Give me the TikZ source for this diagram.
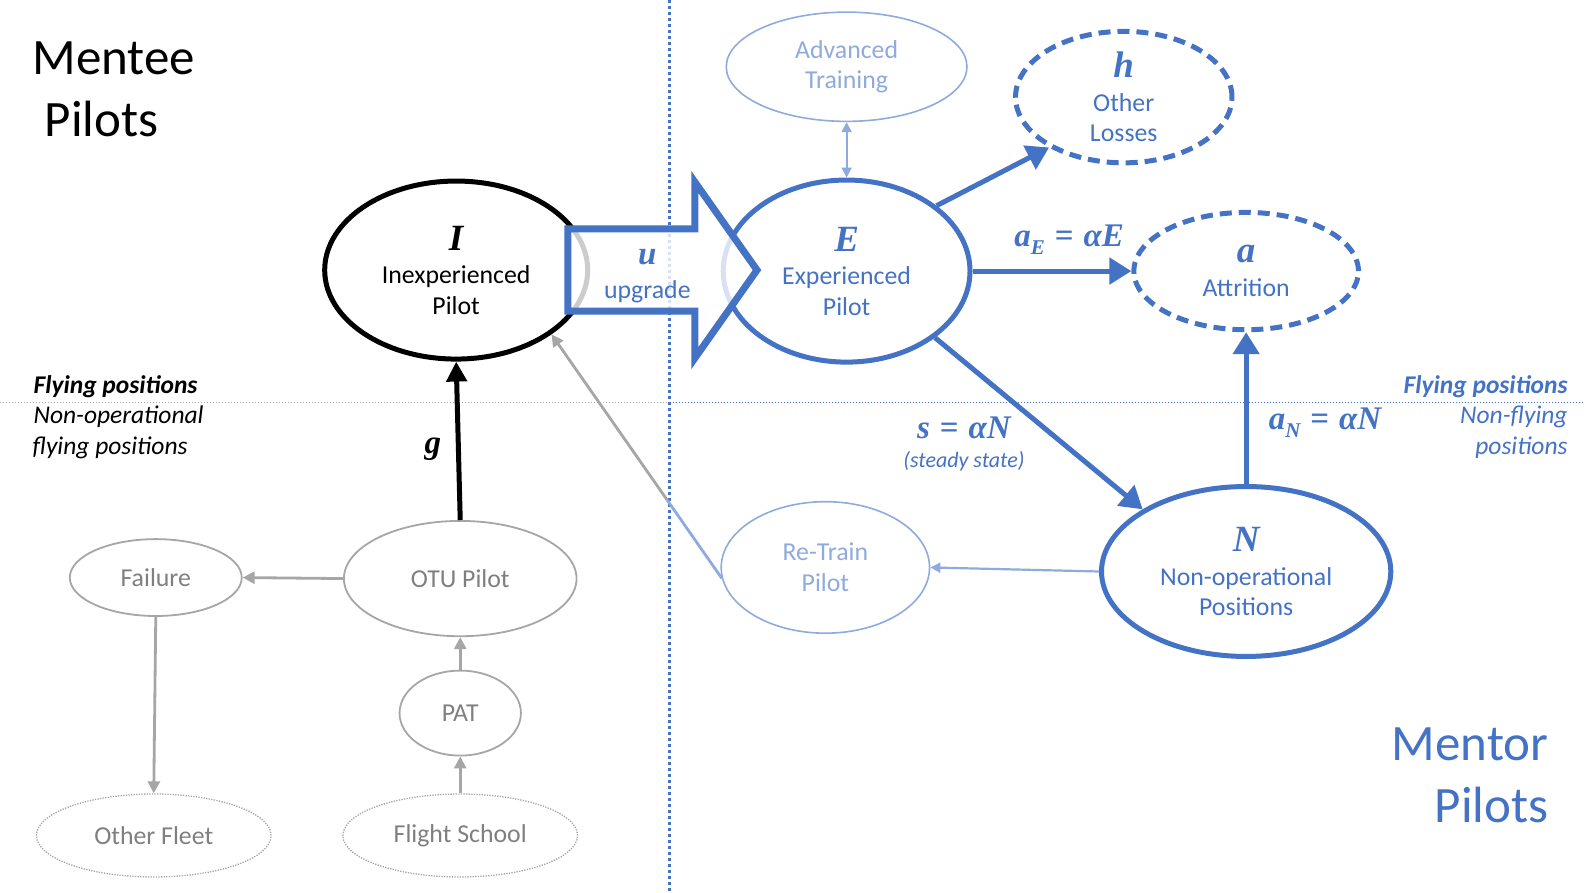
\documentclass[tikz,border=0pt]{standalone}
\usepackage{fontspec}
\setmainfont{Carlito}
\newfontfamily\mfont{Liberation Serif}
\usetikzlibrary{shapes.geometric,arrows.meta,calc}
\definecolor{oblue}{HTML}{4472C4}
\definecolor{lblue}{HTML}{8FAADC}
\definecolor{ogray}{HTML}{A6A6A6}
\definecolor{tgray}{HTML}{7F7F7F}
\newcommand\mv[1]{{\mfont\bfseries\itshape #1}}
\newcommand\msub[1]{\raisebox{-0.22em}{\fontsize{21}{21}\selectfont\mfont\bfseries\itshape #1}}
\newcommand\meq{{\mfont\bfseries\hspace{0.3em}=\hspace{0.3em}}}
\newcommand\ltr[1]{{\fontsize{37}{37}\selectfont\mv{#1}}}
\begin{document}
\begin{tikzpicture}[x=1.0115pt,y=-1.0115pt,
  ell/.style={ellipse, inner sep=0pt, align=center, font=\fontsize{25.8}{30.5}\selectfont},
  esize/.style 2 args={minimum width={#1*1.0115pt}, minimum height={#2*1.0115pt}},
  mainblue/.style={ell, draw=oblue, line width=5pt, text=oblue},
  mainblack/.style={ell, draw=black, line width=5pt, text=black},
  dashblue/.style={ell, draw=oblue, line width=5pt, text=oblue, dash pattern=on 12pt off 7pt},
  lightell/.style={ell, draw=lblue, line width=1.6pt, text=lblue},
  grayell/.style={ell, draw=ogray, line width=1.8pt, text=tgray},
  dotell/.style={ell, draw=ogray, line width=1.3pt, text=tgray, dash pattern=on 1.3pt off 1.3pt},
  bluearrow/.style={draw=oblue, line width=5pt, -{Triangle[length=22pt,width=26pt]}},
  blackarrow/.style={draw=black, line width=5pt, -{Triangle[length=20pt,width=20pt]}},
  grayarrow/.style={draw=ogray, line width=2.8pt, -{Triangle[length=12pt,width=12pt]}},
  lightarrow/.style={draw=lblue, line width=2.2pt, -{Triangle[length=10pt,width=10pt]}},
  lbl/.style={inner sep=0pt},
  bigtext/.style={lbl, font=\fontsize{51}{51}\selectfont},
  zone/.style={lbl, font=\fontsize{25.5}{30}\selectfont\itshape},
  mathlbl/.style={lbl, text=oblue, font=\fontsize{33}{33}\selectfont},
]
\useasboundingbox (0,0) rectangle (1568,882);

% divider lines
\coordinate (vtop) at (662,0);
\coordinate (vbot) at (662,882);
\coordinate (hl) at (0,398);
\coordinate (hm) at (662,398);
\coordinate (hr) at (1565,398);
\draw[ogray, line width=1.4pt, dash pattern=on 1.4pt off 1.6pt] (hl) -- (hm);
\draw[oblue, line width=1.4pt, dash pattern=on 1.4pt off 1.6pt] (hm) -- (hr);
\draw[oblue, line width=3pt, dash pattern=on 3pt off 3pt] (vtop) -- (vbot);

% titles
\node[bigtext, anchor=west] (mentee1) at (32,58) {Mentee};
\node[bigtext, anchor=west] (mentee2) at (44,118) {Pilots};
\node[bigtext, anchor=east, text=oblue] (mentor1) at (1531,736) {Mentor};
\node[bigtext, anchor=east, text=oblue] (mentor2) at (1531,796) {Pilots};

% zone labels
\node[zone, anchor=base west, font=\fontsize{25.5}{30}\selectfont\bfseries\itshape] (fpl) at (33,389) {Flying positions};
\node[zone, anchor=base west] (nol) at (33,419) {Non-operational};
\node[zone, anchor=base west] (fpl2) at (32,449) {flying positions};
\node[zone, anchor=base east, text=oblue, font=\fontsize{25.5}{30}\selectfont\bfseries\itshape] (fpr) at (1550,389) {Flying positions};
\node[zone, anchor=base east, text=oblue] (nfr) at (1550,419) {Non-flying};
\node[zone, anchor=base east, text=oblue] (pr) at (1550,449) {positions};

% ellipses
\node[mainblack, esize={260}{176}] (I) at (451,267) {\ltr{I}\\[3pt]Inexperienced\\Pilot};
\node[mainblue, esize={244}{180}] (E) at (837,268) {\ltr{E}\\[3pt]Experienced\\Pilot};
\node[lightell, esize={238}{108}] (AT) at (837,66) {Advanced\\Training};
\node[dashblue, esize={214}{130}] (h) at (1111,96) {\ltr{h}\\[3pt]Other\\Losses};
\node[dashblue, esize={222}{116}] (a) at (1232,268) {\ltr{a}\\[3pt]Attrition};
\node[mainblue, esize={286}{168}] (N) at (1232,565) {\ltr{N}\\[3pt]Non-operational\\Positions};
\node[lightell, esize={206}{130}] (rt) at (816,561) {Re-Train\\Pilot};
\node[grayell, esize={230}{114}] (otu) at (455,572) {OTU Pilot};
\node[grayell, esize={170}{76}] (fail) at (154,571) {Failure};
\node[grayell, esize={120}{84}] (pat) at (455,705) {PAT};
\node[dotell, esize={232}{82}] (of) at (152,826) {Other Fleet};
\node[dotell, esize={232}{82}] (fs) at (455,826) {Flight School};

% upgrade block arrow
\draw[oblue, line width=7pt, fill=white, fill opacity=0.8, line join=miter]
  (561.5,226.4) -- (687,226.4) -- (687,180) -- (748.4,267) -- (687,354) -- (687,307.5) -- (561.5,307.5) -- cycle;
\node[mathlbl] (u) at (640,254) {\mv{u}};
\node[lbl, text=oblue, font=\fontsize{25.8}{30}\selectfont] (upg) at (640,288) {upgrade};

% connectors
\draw[blackarrow] (otu.north) -- (I.south);
\node[lbl, font=\fontsize{33}{33}\selectfont] (g) at (428,444) {\mv{g}};

\draw[grayarrow] (otu.west) -- (fail.east);
\draw[grayarrow] (fail.south) -- (of.north);
\draw[grayarrow] (pat.north) -- (otu.south);
\draw[grayarrow] (fs.north) -- (pat.south);

\path (rt.186) -- (I.-34) coordinate[pos=0.32] (sp);
\draw[grayarrow] (sp) -- (I.-34);
\draw[draw=lblue, line width=2.8pt] (rt.186) -- (sp);

\draw[lightarrow] (N.west) -- (rt.east);
\draw[lightarrow, {Triangle[length=10pt,width=10pt]}-{Triangle[length=10pt,width=10pt]}] (AT.south) -- (E.north);

\draw[bluearrow] (E.36) -- (h.214);
\draw[bluearrow] (E.east) -- (a.west);
\draw[bluearrow] (E.-37) -- (N.149);
\draw[bluearrow] (N.north) -- (a.south);

\node[mathlbl] (aE) at (1057,237) {\mv{a}\msub{E}\meq\mv{αE}};
\node[mathlbl] (s) at (953,423) {\mv{s}\meq\mv{αN}};
\node[lbl, text=oblue, font=\fontsize{22}{24}\selectfont\itshape] (ss) at (953,456) {(steady state)};
\node[mathlbl] (aN) at (1310,418) {\mv{a}\msub{N}\meq\mv{αN}};
\end{tikzpicture}
\end{document}
